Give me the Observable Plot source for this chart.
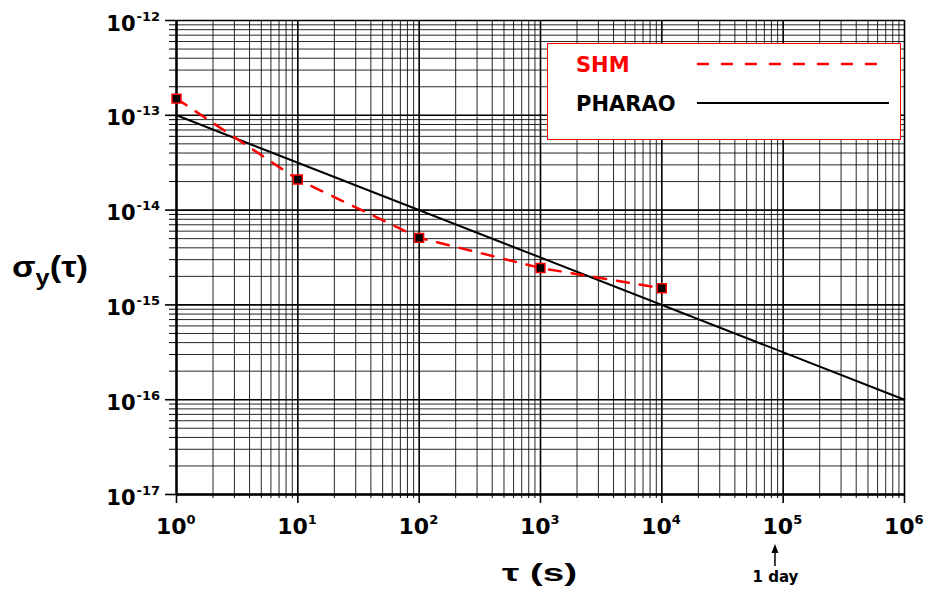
<!DOCTYPE html>
<html><head><meta charset="utf-8">
<script src="https://cdn.jsdelivr.net/npm/d3@7"></script>
<script src="https://cdn.jsdelivr.net/npm/@observablehq/plot@0.6"></script>
<style>
body{margin:0;background:#fff;}
#wrap{position:relative;width:925px;height:597px;font-family:'DejaVu Sans',sans-serif;}
#legend{position:absolute;left:547px;top:43px;width:354px;height:97px;border:1.5px solid #ff0000;background:#fff;box-sizing:border-box;}
</style></head><body><div id="wrap"></div>
<script>
// ---- data ----
const seriesNames = ["SHM", "PHARAO"];
const seriesColors = ["#ff0000", "#000000"];
const shmTau = [1, 10, 100, 1000, 10000];
const shmSigma = [1.5e-13, 2.1e-14, 5.1e-15, 2.45e-15, 1.5e-15];
const pharaoTau = [1, 1e6];
const pharaoSigma = [1e-13, 1e-16];
const xMajor = [1, 10, 100, 1e3, 1e4, 1e5, 1e6];
const xExp = ["0", "1", "2", "3", "4", "5", "6"];
const yMajor = [1e-17, 1e-16, 1e-15, 1e-14, 1e-13, 1e-12];
const yExp = ["-17", "-16", "-15", "-14", "-13", "-12"];
const minorMult = [2, 3, 4, 5, 6, 7, 8, 9];
const oneDay = 86400;
const oneDayLabel = "1 day";
const xTitle = "τ (s)";
const yTitleMain = "σ", yTitleSub = "y", yTitleRest = "(τ)";

const xMinor = xMajor.slice(0, -1).flatMap(d => minorMult.map(m => d * m));
const yMinor = yMajor.slice(0, -1).flatMap(d => minorMult.map(m => d * m));
const shm = shmTau.map((t, i) => ({tau: t, sigma: shmSigma[i]}));
const pharao = pharaoTau.map((t, i) => ({tau: t, sigma: pharaoSigma[i]}));

const font = "'DejaVu Sans', sans-serif";
const titleFont = "Arial, 'Liberation Sans', sans-serif";

function dayArrow(index, scales, values, dimensions) {
  const x = scales.x(oneDay);
  const y0 = dimensions.height - dimensions.marginBottom;
  const g = d3.create("svg:g");
  g.append("line").attr("x1", x).attr("x2", x).attr("y1", y0 + 56).attr("y2", y0 + 72)
    .attr("stroke", "#000").attr("stroke-width", 1.5);
  g.append("path").attr("d", `M${x},${y0 + 50}L${x - 3.5},${y0 + 59}L${x + 3.5},${y0 + 59}Z`).attr("fill", "#000");
  return g.node();
}

const svg = Plot.plot({
  width: 925,
  height: 597,
  marginLeft: 176,
  marginRight: 21,
  marginTop: 20,
  marginBottom: 103,
  style: {fontFamily: font, background: "#fff", color: "#000"},
  x: {type: "log", domain: [1, 1e6], axis: null},
  y: {type: "log", domain: [1e-17, 1e-12], axis: null},
  marks: [
    Plot.ruleX(xMinor, {x: d => d, stroke: "#000", strokeWidth: 1, strokeOpacity: 0.85}),
    Plot.ruleY(yMinor, {y: d => d, stroke: "#000", strokeWidth: 1, strokeOpacity: 0.85}),
    Plot.ruleX(xMajor, {x: d => d, stroke: "#000", strokeWidth: 1.6}),
    Plot.ruleY(yMajor, {y: d => d, stroke: "#000", strokeWidth: 1.6}),
    Plot.axisX(xMinor, {tickSize: 4, tickFormat: () => "", label: null, strokeWidth: 1}),
    Plot.axisX(xMajor, {tickSize: 9, tickFormat: () => "", label: null, strokeWidth: 1.6}),
    Plot.axisY(yMinor, {tickSize: 7, tickFormat: () => "", label: null, strokeWidth: 1}),
    Plot.axisY(yMajor, {tickSize: 11, tickFormat: () => "", label: null, strokeWidth: 1.6}),
    Plot.ruleX([1], {x: d => d, stroke: "#000", strokeWidth: 2.4}),
    Plot.ruleY([1e-17], {y: d => d, stroke: "#000", strokeWidth: 2.4}),
    Plot.line(pharao, {x: "tau", y: "sigma", stroke: seriesColors[1], strokeWidth: 2}),
    Plot.line(shm, {x: "tau", y: "sigma", stroke: seriesColors[0], strokeWidth: 2.5, strokeDasharray: "12,11"}),
    Plot.dot(shm, {x: "tau", y: "sigma", symbol: "square", r: 5, fill: "#000", stroke: "#ff0000", strokeWidth: 1.5}),
    // y tick labels
    Plot.text(yMajor, {y: d => d, frameAnchor: "left", dx: -41, dy: 10, text: () => "10", textAnchor: "end", lineAnchor: "bottom", fontSize: 21, fontWeight: "bold"}),
    Plot.text(yMajor, {y: d => d, frameAnchor: "left", dx: -40, dy: 0, text: (d, i) => yExp[i], textAnchor: "start", lineAnchor: "bottom", fontSize: 13, fontWeight: "bold"}),
    // x tick labels
    Plot.text(xMajor, {x: d => d, frameAnchor: "bottom", dx: 10, dy: 39, text: () => "10", textAnchor: "end", lineAnchor: "bottom", fontSize: 22, fontWeight: "bold"}),
    Plot.text(xMajor, {x: d => d, frameAnchor: "bottom", dx: 10, dy: 29, text: (d, i) => xExp[i], textAnchor: "start", lineAnchor: "bottom", fontSize: 13, fontWeight: "bold"}),
    // 1 day annotation
    Plot.text([oneDay], {x: d => d, frameAnchor: "bottom", dy: 87, text: () => oneDayLabel, lineAnchor: "bottom", fontSize: 15, fontWeight: "bold"}),
    dayArrow
  ]
});

// x title (stretched like the reference)
d3.select(svg).append("text")
  .attr("x", 502).attr("y", 581)
  .attr("text-anchor", "start")
  .attr("font-family", titleFont).attr("font-weight", "bold").attr("font-size", 23).attr("fill", "#000")
  .attr("textLength", 75).attr("lengthAdjust", "spacingAndGlyphs")
  .text(xTitle);

// y title with subscript
const yt = d3.select(svg).append("text")
  .attr("x", 12).attr("y", 277)
  .attr("text-anchor", "start")
  .attr("font-family", titleFont).attr("font-weight", "bold").attr("font-size", 30).attr("fill", "#000")
  .attr("textLength", 76).attr("lengthAdjust", "spacingAndGlyphs");
yt.append("tspan").text(yTitleMain);
yt.append("tspan").attr("font-size", 22).attr("dy", 8).text(yTitleSub);
yt.append("tspan").attr("dy", -8).text(yTitleRest);

const wrap = document.getElementById("wrap");
wrap.appendChild(svg);

// legend
const leg = document.createElement("div");
leg.id = "legend";
wrap.appendChild(leg);
const ls = d3.select(leg).append("svg").attr("width", 351).attr("height", 94).style("display", "block");
const rowsY = [20, 59];
const lineEnds = [333, 341];
seriesNames.forEach((name, i) => {
  ls.append("text").attr("x", 28).attr("y", rowsY[i] + 8)
    .attr("font-family", font).attr("font-weight", "bold").attr("font-size", 21)
    .attr("fill", seriesColors[i]).text(name);
  ls.append("line").attr("x1", 149).attr("x2", lineEnds[i]).attr("y1", rowsY[i]).attr("y2", rowsY[i])
    .attr("stroke", seriesColors[i]).attr("stroke-width", i === 0 ? 2.5 : 2)
    .attr("stroke-dasharray", i === 0 ? "12,12" : null);
});
</script></body></html>
